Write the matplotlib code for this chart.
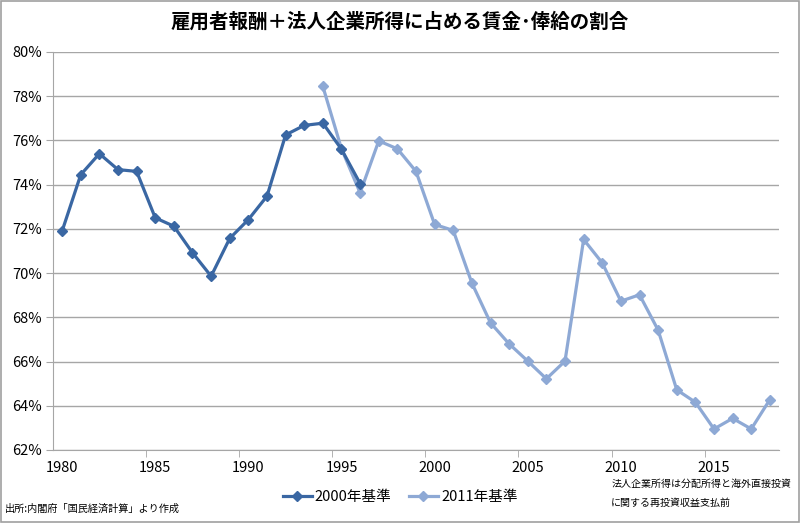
import numpy as np
import matplotlib.pyplot as plt
from matplotlib.ticker import FuncFormatter

plt.rcParams['font.family'] = ['Noto Sans CJK JP', 'DejaVu Sans']

years_2000 = list(range(1980, 1997))
vals_2000 = [71.9, 74.45, 75.4, 74.68, 74.6, 72.5, 72.12, 70.92, 69.86, 71.57,
             72.42, 73.48, 76.25, 76.68, 76.78, 75.6, 74.05]

years_2011 = list(range(1994, 2019))
vals_2011 = [78.44, 75.62, 73.63, 75.98, 75.62, 74.6, 72.2, 71.93, 69.55, 67.75,
             66.8, 66.02, 65.22, 66.02, 71.52, 70.46, 68.73, 69.02, 67.42, 64.72,
             64.16, 62.95, 63.43, 62.95, 64.28]

dark = '#3A67A3'
light = '#8EA9D5'
grid_c = '#A6A6A6'

fig = plt.figure(figsize=(8, 5.23), dpi=100)
ax = fig.add_axes([0.066, 0.1396, 0.908, 0.761])

ax.plot(years_2000, vals_2000, color=dark, lw=2.3, marker='D', ms=5, label='2000年基準', zorder=3)
ax.plot(years_2011, vals_2011, color=light, lw=2.3, marker='D', ms=5, label='2011年基準', zorder=2)

ax.set_xlim(1979.5, 2018.5)
ax.set_ylim(62, 80)
ax.set_yticks(np.arange(62, 81, 2))
ax.yaxis.set_major_formatter(FuncFormatter(lambda v, p: '%d%%' % v))
ax.set_xticks(range(1980, 2016, 5))
ax.set_xticks(np.arange(1984.5, 2015, 5), minor=True)
ax.tick_params(axis='x', which='major', length=0, pad=8, labelsize=10.5)
ax.tick_params(axis='x', which='minor', length=5, color=grid_c, direction='out')
ax.tick_params(axis='y', length=5, color=grid_c, direction='out', labelsize=10.5, pad=3)

ax.grid(axis='y', color=grid_c, lw=1)
ax.set_axisbelow(True)
for s in ['top', 'right']:
    ax.spines[s].set_visible(False)
for s in ['left', 'bottom']:
    ax.spines[s].set_color(grid_c)

fig.text(0.5, 0.958, '雇用者報酬＋法人企業所得に占める賃金･俸給の割合', ha='center', va='center',
         fontsize=14, fontweight='bold')

leg = fig.legend(loc='center', bbox_to_anchor=(0.5, 0.05), ncol=2, frameon=False,
                 fontsize=10.5, handlelength=2.0, columnspacing=1.2, handletextpad=0.2)

fig.text(0.006, 0.018, '出所:内閣府「国民経済計算」より作成', fontsize=7.3, ha='left', va='bottom')
fig.text(0.764, 0.074, '法人企業所得は分配所得と海外直接投資', fontsize=7.2, ha='left', va='center')
fig.text(0.764, 0.038, 'に関する再投資収益支払前', fontsize=7.2, ha='left', va='center')

border = plt.Rectangle((0.001, 0.001), 0.998, 0.998, transform=fig.transFigure,
                       fill=False, edgecolor='#A0A0A0', lw=1.2)
fig.patches.append(border)

fig.savefig('out.png', dpi=100)
